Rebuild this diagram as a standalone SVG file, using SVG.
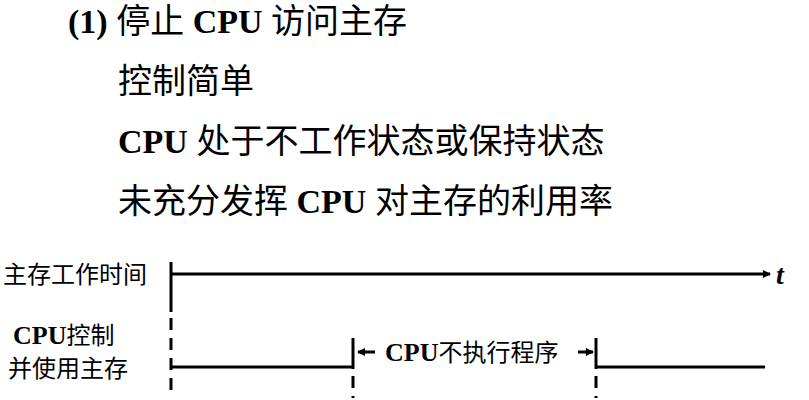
<svg xmlns="http://www.w3.org/2000/svg" width="809" height="400" viewBox="0 0 809 400">
<style>
.t{font-family:"Liberation Serif","Noto Sans CJK SC",serif;fill:#000}
.b{font-weight:bold}
.l{stroke:#000;stroke-width:3;fill:none}
.d{stroke:#000;stroke-width:3;fill:none;stroke-dasharray:12,8}
</style>
<defs><marker id="a" markerWidth="8" markerHeight="8" refX="7" refY="4" orient="auto" markerUnits="userSpaceOnUse"><path d="M0,0L8,4L0,8z" fill="#000"/></marker></defs>
<g id="text" class="t" font-size="34">
<text x="68" y="33"><tspan class="b">(1) </tspan>停止 <tspan class="b">CPU</tspan> 访问主存</text>
<text x="118" y="93">控制简单</text>
<text x="118" y="153"><tspan class="b">CPU</tspan> 处于不工作状态或保持状态</text>
<text x="118" y="213">未充分发挥 <tspan class="b">CPU</tspan> 对主存的利用率</text>
</g>
<g id="labels" class="t" font-size="24">
<text x="3" y="283">主存工作时间</text>
<text x="13" y="344"><tspan class="b" font-size="26">CPU</tspan>控制</text>
<text x="8" y="377">并使用主存</text>
<text x="385" y="361"><tspan class="b" font-size="26">CPU</tspan>不执行程序</text>
<text x="776" y="284" font-size="28" font-style="italic" font-weight="bold">t</text>
</g>
<g id="connectors">
<line class="l" x1="171" y1="262" x2="171" y2="312"/>
<line class="d" x1="171" y1="318" x2="171" y2="395"/>
<line class="l" x1="171" y1="274" x2="770" y2="274" marker-end="url(#a)"/>
<line class="l" x1="171" y1="367" x2="353" y2="367"/>
<line class="l" x1="353" y1="338" x2="353" y2="369"/>
<line class="d" x1="353" y1="376" x2="353" y2="398"/>
<line class="l" x1="375" y1="352" x2="358" y2="352" marker-end="url(#a)"/>
<line class="l" x1="578" y1="352" x2="593" y2="352" marker-end="url(#a)"/>
<line class="l" x1="596" y1="338" x2="596" y2="369"/>
<line class="d" x1="596" y1="376" x2="596" y2="398"/>
<line class="l" x1="596" y1="367" x2="765" y2="367"/>
</g>
</svg>
